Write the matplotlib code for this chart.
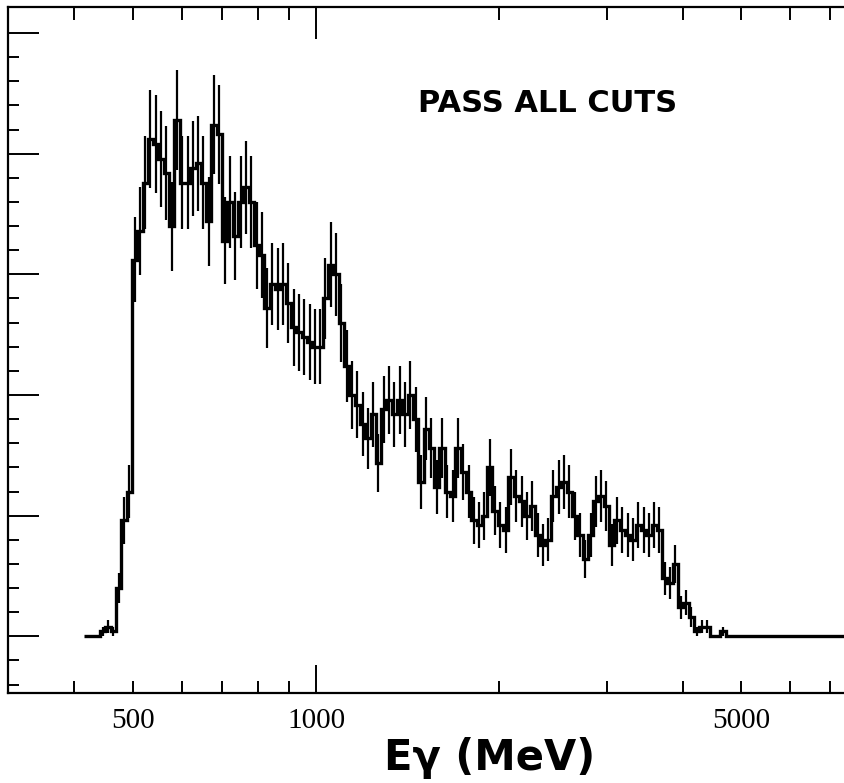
import numpy as np
import matplotlib
matplotlib.use("Agg")
import matplotlib.pyplot as plt
from matplotlib.ticker import FixedLocator, NullFormatter, FixedFormatter

# Photon energy spectrum, events per bin (log-uniform bins)
E_MIN = 415.0          # MeV, lower edge of the first bin
BIN_DEX = 0.00872      # bin width in decades

counts = [
    0, 0, 0, 1, 2, 1, 10, 24, 30, 78,
    84, 94, 103, 102, 99, 96, 85, 107, 94, 94,
    97, 98, 94, 86, 106, 104, 82, 90, 83, 90,
    93, 90, 81, 79, 68, 73, 72, 73, 69, 64,
    63, 62, 61, 60, 60, 70, 77, 75, 65, 56,
    50, 48, 44, 41, 46, 36, 47, 49, 46, 49,
    46, 50, 45, 32, 43, 39, 31, 39, 30, 29,
    39, 34, 30, 24, 23, 25, 35, 26, 23, 22,
    33, 29, 28, 25, 27, 21, 19, 20, 29, 31,
    32, 30, 25, 21, 16, 21, 28, 29, 27, 19,
    24, 22, 21, 20, 23, 22, 21, 23, 22, 12,
    11, 15, 6, 7, 4, 1, 2, 2, 0, 0,
    1, 0, 0, 0, 0, 0, 0, 0, 0, 0,
    0, 0, 0, 0, 0, 0, 0, 0, 0, 0,
    0, 0, 0, 0,
]

x_labels = ["500", "1000", "5000"]
x_label_pos = [500, 1000, 5000]
x_minor_pos = [400, 600, 700, 800, 900, 2000, 3000, 4000, 6000, 7000]

counts = np.asarray(counts, dtype=float)
edges = E_MIN * 10 ** (BIN_DEX * np.arange(len(counts) + 1))
centers = np.sqrt(edges[:-1] * edges[1:])
errors = np.sqrt(counts)

fig = plt.figure(figsize=(8.44, 7.83), dpi=100)
ax = fig.add_axes([8 / 844, 1 - 693 / 783, 1 - 8 / 844, (693 - 7) / 783])

ax.stairs(counts, edges, color="black", linewidth=2.4, baseline=None)
ax.errorbar(centers, counts, yerr=errors, fmt="none", ecolor="black",
            elinewidth=1.6, capsize=0)

ax.set_xscale("log")
ax.set_xlim(311, 7373)
ax.set_ylim(-11.75, 130.4)

# x axis: labelled ticks plus unlabelled intermediate ones
ax.xaxis.set_major_locator(FixedLocator(x_label_pos))
ax.xaxis.set_major_formatter(FixedFormatter(x_labels))
ax.xaxis.set_minor_locator(FixedLocator(x_minor_pos))
ax.xaxis.set_minor_formatter(NullFormatter())
ax.tick_params(axis="x", which="both", direction="in", top=True, bottom=True,
               length=9, width=1.4, pad=11)
for lab in ax.get_xticklabels():
    lab.set_fontfamily("Liberation Serif")
    lab.set_fontsize(21)
# the 1000 MeV tick is drawn longer on both edges
t1000 = ax.xaxis.get_major_ticks()[1]
t1000.tick1line.set_markersize(20)
t1000.tick2line.set_markersize(23)

# y axis: unlabelled ticks only
ax.set_yticks(np.arange(0, 126, 25))
ax.set_yticks(np.arange(-10, 130, 5), minor=True)
ax.tick_params(axis="y", which="major", direction="in", left=True, right=False,
               length=22, width=1.4, labelleft=False)
ax.tick_params(axis="y", which="minor", direction="in", left=True, right=False,
               length=8, width=1.4)

for side in ("left", "bottom", "top"):
    ax.spines[side].set_linewidth(1.6)
ax.spines["right"].set_visible(False)

fig.text(548 / 844, 1 - 104 / 783, "PASS ALL CUTS", ha="center", va="center",
         fontsize=22, fontweight="bold", family="DejaVu Sans")

fig.text(490 / 844, 1 - 758 / 783, "E\u03b3 (MeV)", ha="center", va="center",
         fontsize=30, fontweight="bold", family="DejaVu Sans")

fig.savefig("out.png", dpi=100, facecolor="white")
